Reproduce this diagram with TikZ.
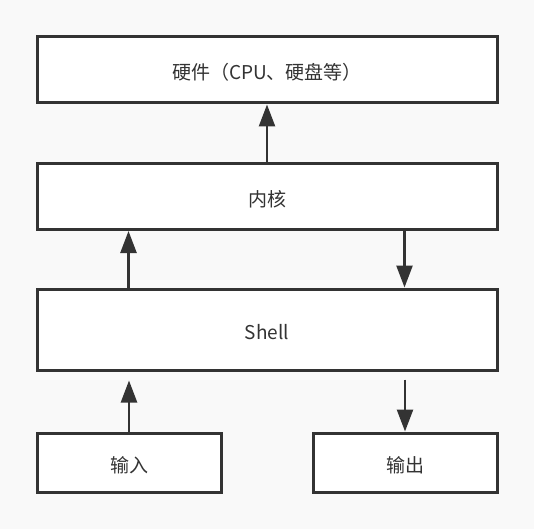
\documentclass[tikz,border=0pt]{standalone}
\usepackage{fontspec}
\setmainfont{Noto Sans CJK SC}
\usetikzlibrary{arrows.meta}
\definecolor{bgc}{HTML}{F9F9F9}
\definecolor{ink}{HTML}{333333}
\tikzset{
  boxnode/.style={draw=ink, line width=3pt, fill=white, text=ink, inner sep=0pt, text height=20pt, text depth=0pt, font=\fontsize{19}{22}\selectfont},
  arr/.style={draw=ink, line width=2.5pt, -{Triangle[length=22pt,width=16pt]}}
}
\begin{document}
\begin{tikzpicture}[x=1pt,y=-1pt]
\fill[bgc] (0,0) rectangle (534,529);
\useasboundingbox (0,0) rectangle (534,529);
\node[boxnode, minimum width=460pt, minimum height=66pt] (hw) at (267,70) {硬件（CPU、硬盘等）};
\node[boxnode, minimum width=460pt, minimum height=66pt] (kernel) at (267,196.5) {内核};
\node[boxnode, minimum width=460pt, minimum height=81pt] (shell) at (267,329.5) {Shell};
\node[boxnode, minimum width=184pt, minimum height=59pt] (in) at (129,462.5) {输入};
\node[boxnode, minimum width=184pt, minimum height=59pt] (out) at (405,462.5) {输出};
\coordinate (inend) at ([yshift=-9pt]in.north |- shell.south);
\coordinate (outstart) at ([yshift=-8pt]out.north |- shell.south);
\draw[arr] (kernel.north) -- (hw.south);
\draw[arr] ([xshift=93pt]shell.north west) -- ([xshift=93pt]kernel.south west);
\draw[arr] ([xshift=369pt]kernel.south west) -- ([xshift=369pt]shell.north west);
\draw[arr] (in.north) -- (inend);
\draw[arr] (outstart) -- (out.north);
\end{tikzpicture}
\end{document}
